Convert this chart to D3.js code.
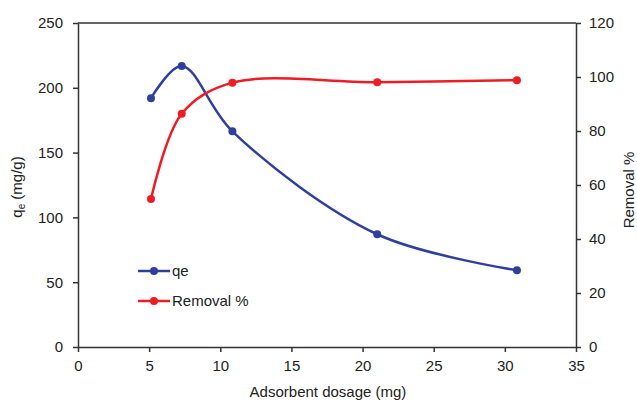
<!DOCTYPE html>
<html>
<head>
<meta charset="utf-8">
<script src="https://cdn.jsdelivr.net/npm/d3@7"></script>
<style>
  body { margin: 0; background: #fff; }
  text { font-family: "Liberation Sans", Arial, sans-serif; fill: #222; }
  .axis path, .axis line { stroke: #333; stroke-width: 1.5; }
  .axis text { font-size: 15px; }
</style>
</head>
<body>
<div id="chart"></div>
<script>
const WIDTH = 637;
const HEIGHT = 404;
const MARGIN = { top: 23, right: 61, bottom: 57, left: 78 };

// data
var dosage = [5.13, 7.29, 10.85, 21.03, 30.85];
var qe = [192, 216.8, 166.4, 87, 59.2];
var removal = [54.8, 86.4, 97.9, 98.1, 98.8];
var xTicks = [0, 5, 10, 15, 20, 25, 30, 35];
var qeTicks = [0, 50, 100, 150, 200, 250];
var remTicks = [0, 20, 40, 60, 80, 100, 120];

const BLUE = "#2f3f9d";
const RED = "#ee1c25";

var xScale = d3.scaleLinear().domain([0, 35]).range([MARGIN.left, WIDTH - MARGIN.right]);
var yLeft = d3.scaleLinear().domain([0, 250]).range([HEIGHT - MARGIN.bottom, MARGIN.top]);
var yRight = d3.scaleLinear().domain([0, 120]).range([HEIGHT - MARGIN.bottom, MARGIN.top]);

var svg = d3.select("#chart").append("svg")
  .attr("width", WIDTH)
  .attr("height", HEIGHT);

//Top frame line
svg.append("line")
  .attr("x1", MARGIN.left).attr("x2", WIDTH - MARGIN.right)
  .attr("y1", MARGIN.top).attr("y2", MARGIN.top)
  .attr("stroke", "#333").attr("stroke-width", 1.5);

//Axes
svg.append("g").attr("class", "axis")
  .attr("transform", "translate(0," + (HEIGHT - MARGIN.bottom) + ")")
  .call(d3.axisBottom(xScale).tickValues(xTicks).tickSize(5).tickSizeOuter(0).tickPadding(8));

svg.append("g").attr("class", "axis")
  .attr("transform", "translate(" + MARGIN.left + ",0)")
  .call(d3.axisLeft(yLeft).tickValues(qeTicks).tickSize(5).tickSizeOuter(0).tickPadding(10));

svg.append("g").attr("class", "axis")
  .attr("transform", "translate(" + (WIDTH - MARGIN.right) + ",0)")
  .call(d3.axisRight(yRight).tickValues(remTicks).tickSize(5).tickSizeOuter(0).tickPadding(8));

//Axis titles
svg.append("text")
  .attr("x", (MARGIN.left + WIDTH - MARGIN.right) / 2 + 1)
  .attr("y", 397)
  .attr("text-anchor", "middle")
  .style("font-size", "15px")
  .text("Adsorbent dosage (mg)");

var yt = svg.append("text")
  .attr("transform", "translate(22,187) rotate(-90)")
  .attr("text-anchor", "middle")
  .style("font-size", "15px");
yt.append("tspan").text("q");
yt.append("tspan").attr("dy", 3).style("font-size", "10px").text("e");
yt.append("tspan").attr("dy", -3).text(" (mg/g)");

svg.append("text")
  .attr("transform", "translate(634,190) rotate(-90)")
  .attr("text-anchor", "middle")
  .style("font-size", "15px")
  .text("Removal %");

//Series
var series = [
  { name: "qe", values: qe, y: yLeft, color: BLUE },
  { name: "Removal %", values: removal, y: yRight, color: RED }
];

series.forEach(function (s) {
  var line = d3.line()
    .x((d, i) => xScale(dosage[i]))
    .y((d) => s.y(d))
    .curve(d3.curveCatmullRom.alpha(0.5));

  svg.append("path")
    .datum(s.values)
    .attr("d", line)
    .attr("fill", "none")
    .attr("stroke", s.color)
    .attr("stroke-width", 2.5);

  svg.append("g")
    .selectAll("circle")
    .data(s.values)
    .enter()
    .append("circle")
    .attr("cx", (d, i) => xScale(dosage[i]))
    .attr("cy", (d) => s.y(d))
    .attr("r", 4)
    .attr("fill", s.color);
});

//Legend
var legend = svg.append("g").attr("transform", "translate(138,271)");
series.forEach(function (s, i) {
  var g = legend.append("g").attr("transform", "translate(0," + i * 30 + ")");
  g.append("line").attr("x1", 0).attr("x2", 32).attr("stroke", s.color).attr("stroke-width", 2.5);
  g.append("circle").attr("cx", 16).attr("r", 4).attr("fill", s.color);
  g.append("text").attr("x", 34).attr("dy", "0.35em").style("font-size", "15px").text(s.name);
});
</script>
</body>
</html>
